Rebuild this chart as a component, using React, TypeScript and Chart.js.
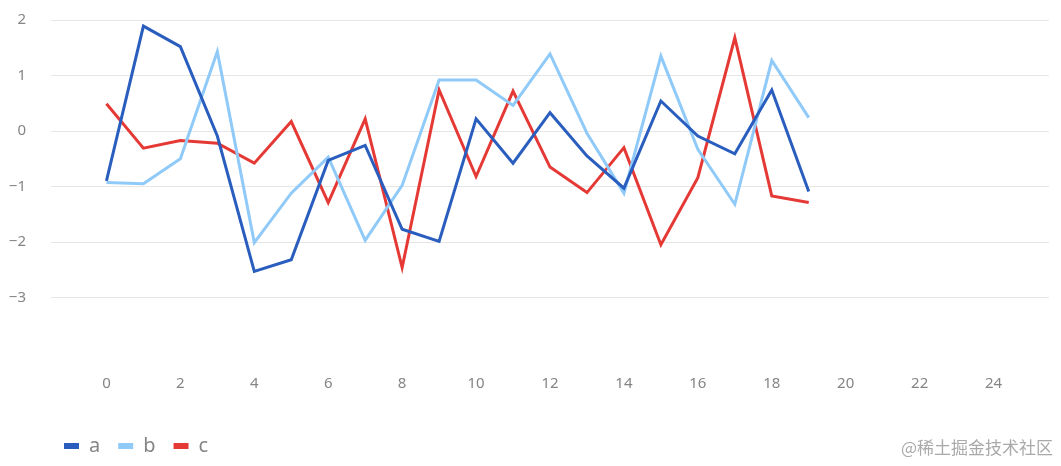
import React, { useEffect, useRef } from 'react';
import { Chart, registerables } from 'chart.js';

Chart.register(...registerables);

const xValues = [0, 1, 2, 3, 4, 5, 6, 7, 8, 9, 10, 11, 12, 13, 14, 15, 16, 17, 18, 19];
const seriesA = [-0.9, 1.89, 1.52, -0.09, -2.53, -2.32, -0.53, -0.26, -1.77, -1.99, 0.22, -0.58, 0.33, -0.45, -1.03, 0.54, -0.09, -0.41, 0.74, -1.09];
const seriesB = [-0.93, -0.95, -0.5, 1.43, -2.01, -1.12, -0.47, -1.97, -0.98, 0.92, 0.92, 0.46, 1.39, -0.04, -1.12, 1.35, -0.33, -1.32, 1.27, 0.24];
const seriesC = [0.49, -0.31, -0.17, -0.22, -0.58, 0.17, -1.29, 0.22, -2.46, 0.74, -0.82, 0.72, -0.65, -1.11, -0.3, -2.05, -0.84, 1.68, -1.17, -1.29];
const seriesNames = ['a', 'b', 'c'];
const seriesColors = ['#2A5EBE', '#90CAF9', '#E53935'];
const xTickStep = 2;
const yTickStep = 1;
const xRange = [-1.5, 25.5];
const yRange = [-4, 2];
const hiddenYTick = -4;
const watermark = '@稀土掘金技术社区';

const LEGEND_TOP = 410;
const LEGEND_LEFT_SHIFT = 38;
const FONT = "'Noto Sans', 'DejaVu Sans', sans-serif";

const fmt = (v: number) => (v < 0 ? '\u2212' + Math.abs(v) : String(v));

export default function App() {
  const ref = useRef<HTMLCanvasElement>(null);
  useEffect(() => {
    if (!ref.current) return;
    const all = [seriesA, seriesB, seriesC];
    const legendPos = {
      id: 'legendPos',
      afterLayout(chart: any) {
        const lg = chart.legend;
        if (lg) {
          const h = lg.bottom - lg.top;
          lg.left += LEGEND_LEFT_SHIFT;
          lg.right += LEGEND_LEFT_SHIFT;
          lg.top = LEGEND_TOP;
          lg.bottom = LEGEND_TOP + h;
        }
      },
    };
    const wm = {
      id: 'wm',
      afterDraw(chart: any) {
        const ctx = chart.ctx;
        ctx.save();
        ctx.font = "17px 'Noto Sans CJK SC', sans-serif";
        ctx.fillStyle = 'rgba(140,140,140,0.75)';
        ctx.textAlign = 'right';
        ctx.textBaseline = 'middle';
        ctx.fillText(watermark, chart.width, 440);
        ctx.restore();
      },
    };
    const chart = new Chart(ref.current, {
      type: 'line',
      data: {
        datasets: all.map((s, i) => ({
          label: seriesNames[i],
          data: s.map((y, j) => ({ x: xValues[j], y })),
          borderColor: seriesColors[i],
          backgroundColor: seriesColors[i],
          borderWidth: 3,
          pointRadius: 0,
          tension: 0,
          borderJoinStyle: 'miter' as const,
          fill: false,
        })),
      },
      options: {
        animation: false,
        responsive: false,
        maintainAspectRatio: false,
        layout: { padding: { left: 0, right: 4, top: 12, bottom: 0 } },
        scales: {
          x: {
            type: 'linear',
            min: xRange[0],
            max: xRange[1],
            afterFit: (axis: any) => {
              axis.height = 57;
              axis.paddingLeft = 0;
              axis.paddingRight = 0;
            },
            grid: { display: false, drawTicks: false },
            border: { display: false },
            ticks: {
              stepSize: xTickStep,
              includeBounds: false,
              padding: 22,
              color: '#858585',
              font: { family: FONT, size: 15 },
              callback: (v: any) => (Number(v) % xTickStep === 0 ? fmt(Number(v)) : null),
              maxRotation: 0,
              autoSkip: false,
            },
          },
          y: {
            type: 'linear',
            min: yRange[0],
            max: yRange[1],
            afterFit: (axis: any) => {
              axis.width = 43;
              axis.paddingTop = 0;
              axis.paddingBottom = 0;
            },
            grid: {
              color: (c: any) => (c.tick && c.tick.value === hiddenYTick ? 'rgba(0,0,0,0)' : '#e6e6e6'),
              lineWidth: 1,
              drawTicks: false,
            },
            border: { display: false },
            ticks: {
              stepSize: yTickStep,
              padding: 25,
              color: '#858585',
              font: { family: FONT, size: 15 },
              callback: (v: any) => (Number(v) === hiddenYTick ? null : fmt(Number(v))),
            },
          },
        },
        plugins: {
          tooltip: { enabled: false },
          legend: {
            position: 'bottom',
            align: 'start',
            labels: {
              boxWidth: 15,
              boxHeight: 6,
              padding: 18,
              color: '#858585',
              font: { family: FONT, size: 20 },
              generateLabels: (c: any) =>
                (Chart.defaults.plugins.legend.labels as any).generateLabels(c).map((l: any) => ({ ...l, lineWidth: 0 })),
            },
          },
        },
      },
      plugins: [legendPos, wm],
    } as any);
    return () => chart.destroy();
  }, []);
  return (
    <div style={{ width: 1045, height: 450 }}>
      <canvas ref={ref} width={1045} height={450} style={{ display: 'block' }} />
    </div>
  );
}
